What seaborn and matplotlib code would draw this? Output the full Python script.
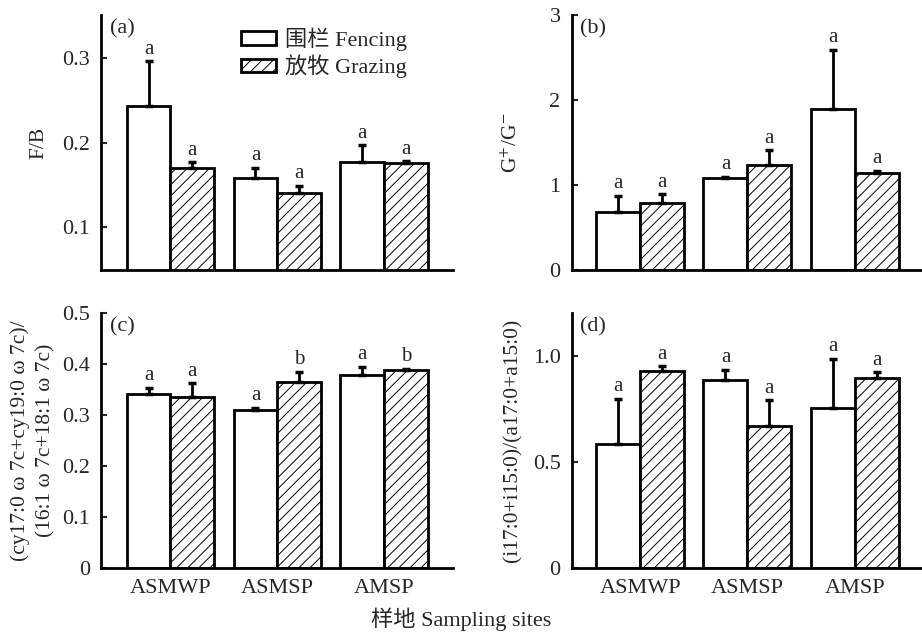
import matplotlib
matplotlib.use("Agg")
import matplotlib.pyplot as plt
import seaborn as sns
import pandas as pd
import numpy as np
from matplotlib.patches import Patch

sites = ["ASMWP", "ASMSP", "AMSP"]
treatments = ["围栏 Fencing", "放牧 Grazing"]

# panel values: fencing / grazing means and upper errors
a_fence = [0.243, 0.158, 0.177]
a_fence_err = [0.053, 0.012, 0.020]
a_graz = [0.170, 0.141, 0.176]
a_graz_err = [0.007, 0.008, 0.002]
a_letters_f = ["a", "a", "a"]
a_letters_g = ["a", "a", "a"]

b_fence = [0.68, 1.08, 1.90]
b_fence_err = [0.19, 0.02, 0.69]
b_graz = [0.79, 1.24, 1.14]
b_graz_err = [0.10, 0.17, 0.03]
b_letters_f = ["a", "a", "a"]
b_letters_g = ["a", "a", "a"]

c_fence = [0.341, 0.310, 0.378]
c_fence_err = [0.013, 0.004, 0.017]
c_graz = [0.335, 0.365, 0.388]
c_graz_err = [0.027, 0.020, 0.003]
c_letters_f = ["a", "a", "a"]
c_letters_g = ["a", "b", "b"]

d_fence = [0.582, 0.887, 0.755]
d_fence_err = [0.214, 0.047, 0.229]
d_graz = [0.928, 0.670, 0.896]
d_graz_err = [0.022, 0.120, 0.025]
d_letters_f = ["a", "a", "a"]
d_letters_g = ["a", "a", "a"]

sns.set_theme(style="white")
plt.rcParams["font.family"] = ["Liberation Serif", "Noto Sans CJK SC"]
plt.rcParams["mathtext.fontset"] = "stix"
plt.rcParams["hatch.linewidth"] = 0.7
plt.rcParams["hatch.color"] = "#333333"

fig = plt.figure(figsize=(9.22, 6.35), dpi=100)

positions = {
    "a": [0.1095, 0.575, 0.491 - 0.1095, 0.976 - 0.575],
    "b": [0.620, 0.575, 0.999 - 0.620, 0.976 - 0.575],
    "c": [0.1095, 0.1055, 0.491 - 0.1095, 0.507 - 0.1055],
    "d": [0.620, 0.1055, 0.999 - 0.620, 0.507 - 0.1055],
}
label_x = {"a": -0.15, "b": -0.143, "c": -0.13, "d": -0.14}

panels = [
    ("a", a_fence, a_fence_err, a_graz, a_graz_err, a_letters_f, a_letters_g,
     (0.05, 0.35), [0.1, 0.2, 0.3], ["0.1", "0.2", "0.3"], "F/B", (-0.65, 2.64)),
    ("b", b_fence, b_fence_err, b_graz, b_graz_err, b_letters_f, b_letters_g,
     (0, 3), [0, 1, 2, 3], ["0", "1", "2", "3"], r"G$^{+}$/G$^{-}$", (-0.64, 2.62)),
    ("c", c_fence, c_fence_err, c_graz, c_graz_err, c_letters_f, c_letters_g,
     (0, 0.5), [0, 0.1, 0.2, 0.3, 0.4, 0.5], ["0", "0.1", "0.2", "0.3", "0.4", "0.5"],
     "(cy17:0 \u03c9 7c+cy19:0 \u03c9 7c)/\n(16:1 \u03c9 7c+18:1 \u03c9 7c)", (-0.65, 2.64)),
    ("d", d_fence, d_fence_err, d_graz, d_graz_err, d_letters_f, d_letters_g,
     (0, 1.2), [0, 0.5, 1.0], ["0", "0.5", "1.0"], "(i17:0+i15:0)/(a17:0+a15:0)", (-0.64, 2.62)),
]

for (key, fv, fe, gv, ge, lf, lg, ylim, yt, ytl, ylab, xlim) in panels:
    ax = fig.add_axes(positions[key])
    df = pd.DataFrame({
        "site": sites * 2,
        "treatment": [treatments[0]] * 3 + [treatments[1]] * 3,
        "value": list(fv) + list(gv),
    })
    sns.barplot(data=df, x="site", y="value", hue="treatment", order=sites,
                hue_order=treatments, palette=["white", "white"], edgecolor="black",
                linewidth=2, width=0.82, errorbar=None, legend=False, ax=ax, zorder=2)
    conts = ax.containers
    for bar in conts[1]:
        bar.set_hatch("///")
    span = ylim[1] - ylim[0]
    for cont, vals, errs, lets in [(conts[0], fv, fe, lf), (conts[1], gv, ge, lg)]:
        xs = [b.get_x() + b.get_width() / 2 for b in cont]
        ax.errorbar(xs, vals, yerr=[np.zeros(3), errs], fmt="none", ecolor="black",
                    elinewidth=2, capsize=3, capthick=2.5, zorder=3)
        for x, v, e, l in zip(xs, vals, errs, lets):
            ax.text(x, v + e + span * 0.01, l, ha="center", va="bottom", fontsize=15)
    ax.set_ylim(*ylim)
    ax.set_xlim(*xlim)
    ax.set_yticks(yt)
    ax.set_yticklabels(ytl)
    ax.set_xlabel("")
    ax.set_ylabel(ylab, fontsize=15.5, linespacing=1.4)
    ax.yaxis.set_label_coords(label_x[key], 0.5)
    for s in ["top", "right"]:
        ax.spines[s].set_visible(False)
    for s in ["left", "bottom"]:
        ax.spines[s].set_linewidth(2)
        ax.spines[s].set_color("black")
    ax.tick_params(axis="y", direction="in", length=4, width=1.5, labelsize=16, pad=8,
                   left=True)
    ax.tick_params(axis="x", length=0, labelsize=16, pad=8)
    if key in ("a", "b"):
        ax.set_xticklabels([])
    ax.text(0.025, 0.985, f"({key})", transform=ax.transAxes, ha="left", va="top", fontsize=16)
    if key == "a":
        handles = [Patch(facecolor="white", edgecolor="black", linewidth=2),
                   Patch(facecolor="white", edgecolor="black", linewidth=2, hatch="///")]
        ax.legend(handles, treatments, loc="upper left", bbox_to_anchor=(0.34, 1.03),
                  frameon=False, fontsize=16, handlelength=1.6, handleheight=0.55,
                  labelspacing=0.15, handletextpad=0.4)

fig.text(0.5, 0.025, "样地 Sampling sites", ha="center", va="center", fontsize=16)

fig.savefig("out.png", dpi=100, facecolor="white")
